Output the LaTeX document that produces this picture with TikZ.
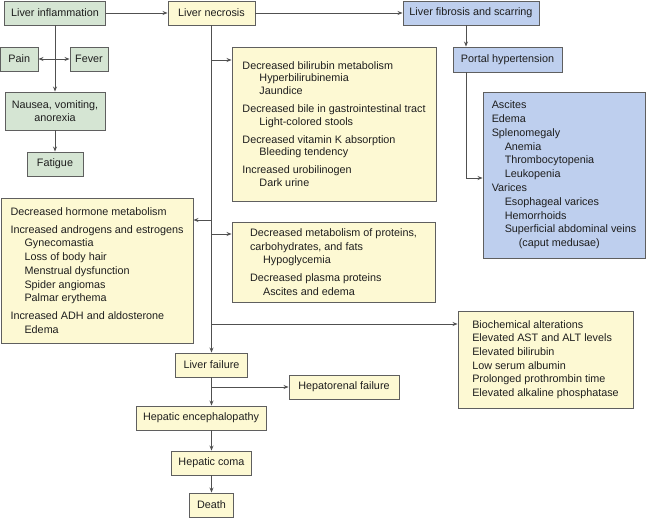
\documentclass[tikz,border=0pt]{standalone}
\usepackage{fontspec}
\setmainfont{Liberation Sans}
\usetikzlibrary{arrows.meta}
\definecolor{greenc}{RGB}{213,229,211}
\definecolor{yelc}{RGB}{253,249,211}
\definecolor{bluec}{RGB}{190,207,238}
\definecolor{bordc}{RGB}{95,95,95}
\definecolor{linec}{RGB}{80,80,80}
\definecolor{txtc}{RGB}{30,30,30}
\newcommand{\indA}{\hspace*{17pt}}
\newcommand{\indB}{\hspace*{13pt}}
\begin{document}
\begin{tikzpicture}[x=1pt,y=-1pt,
 box/.style={draw=bordc, line width=0.9pt, inner sep=0pt, text=txtc, font=\fontsize{10.8}{13}\selectfont, minimum height=24pt},
 gbox/.style={box, fill=greenc, align=center},
 ybox/.style={box, fill=yelc, align=center},
 bbox/.style={box, fill=bluec, align=center},
 lbox/.style={align=left},
 arr/.style={draw=linec, line width=0.8pt, -{Stealth[length=5pt,width=4pt]}},
 arrtwo/.style={draw=linec, line width=0.8pt, {Stealth[length=5pt,width=4pt]}-{Stealth[length=5pt,width=4pt]}}]
\useasboundingbox (0,0) rectangle (650,518);

% green column
\node[gbox, minimum width=101pt] (infl) at (55,13) {Liver inflammation};
\node[gbox, minimum width=37.5pt] (pain) at (19.25,59) {Pain};
\node[gbox, minimum width=38pt] (fever) at (89,59) {Fever};
\node[gbox, minimum width=100pt, minimum height=38pt] (naus) at (55,111) {Nausea, vomiting,\\anorexia};
\node[gbox, minimum width=56pt] (fat) at (55,164) {Fatigue};

% top row
\node[ybox, minimum width=87pt] (necr) at (211.5,13) {Liver necrosis};
\node[bbox, minimum width=136pt] (fibr) at (471,13) {Liver fibrosis and scarring};
\node[bbox, minimum width=109pt, minimum height=25pt] (port) at (507.5,59.5) {Portal hypertension};
\node[bbox, lbox, minimum width=162pt, minimum height=166pt, font=\fontsize{10.8}{13.8}\selectfont] (cons) at (564,175)
 {Ascites\\Edema\\Splenomegaly\\\indB Anemia\\\indB Thrombocytopenia\\\indB Leukopenia\\Varices\\\indB Esophageal varices\\\indB Hemorrhoids\\\indB Superficial abdominal veins\\\hspace*{27pt}(caput medusae)};

% yellow effect boxes
\node[ybox, lbox, minimum width=204pt, minimum height=154pt, font=\fontsize{10.8}{12.8}\selectfont] (bili) at (334,124)
 {Decreased bilirubin metabolism\\\indA Hyperbilirubinemia\\\indA Jaundice\\[5pt]
  Decreased bile in gastrointestinal tract\\\indA Light-colored stools\\[5pt]
  Decreased vitamin K absorption\\\indA Bleeding tendency\\[5pt]
  Increased urobilinogen\\\indA Dark urine};
\node[ybox, lbox, minimum width=192pt, minimum height=145pt, font=\fontsize{10.8}{13.7}\selectfont] (horm) at (97,270.5)
 {Decreased hormone metabolism\\[4.5pt]
  Increased androgens and estrogens\\\hspace*{14pt}Gynecomastia\\\hspace*{14pt}Loss of body hair\\\hspace*{14pt}Menstrual dysfunction\\\hspace*{14pt}Spider angiomas\\\hspace*{14pt}Palmar erythema\\[4.5pt]
  Increased ADH and aldosterone\\\hspace*{14pt}Edema};
\node[ybox, lbox, minimum width=203pt, minimum height=80pt, font=\fontsize{10.8}{13.5}\selectfont] (metab) at (333.5,262)
 {Decreased metabolism of proteins,\\carbohydrates, and fats\\\indB Hypoglycemia\\[4.5pt]
  Decreased plasma proteins\\\indB Ascites and edema};
\node[ybox, lbox, minimum width=175pt, minimum height=97pt, font=\fontsize{10.8}{13.6}\selectfont] (bio) at (545.5,359.5)
 {Biochemical alterations\\Elevated AST and ALT levels\\Elevated bilirubin\\Low serum albumin\\Prolonged prothrombin time\\Elevated alkaline phosphatase};

% bottom chain
\node[ybox, minimum width=72pt] (fail) at (211.5,365) {Liver failure};
\node[ybox, minimum width=110pt] (hr) at (344,387) {Hepatorenal failure};
\node[ybox, minimum width=130pt] (enc) at (201,418) {Hepatic encephalopathy};
\node[ybox, minimum width=80pt] (coma) at (211.5,463) {Hepatic coma};
\node[ybox, minimum width=44pt] (death) at (211.5,505) {Death};

% helper coordinates
\coordinate (t1) at (211.5,60);
\coordinate (t2) at (211.5,220);
\coordinate (t3) at (211.5,234);
\coordinate (t4) at (211.5,324);
\coordinate (xa) at (466,0);

% connectors
\draw[arr] (infl) -- (necr);
\draw[arr] (necr) -- (fibr);
\draw[arr] (infl) -- (naus);
\draw[arrtwo] (pain) -- (fever);
\draw[arr] (naus) -- (fat);
\draw[arr] (fibr.south -| xa) -- (port.north -| xa);
\draw[arr] (port.south -| xa) |- ([yshift=-3pt]cons.west);
\draw[arr] (necr.south) -- (fail.north);
\draw[arr] (t1) -- (t1 -| bili.west);
\draw[arr] (t2) -- (t2 -| horm.east);
\draw[arr] (t3) -- (t3 -| metab.west);
\draw[arr] (t4) -- (t4 -| bio.west);
\draw[arr] (fail.south |- hr.west) -- (hr.west);
\draw[arr] (fail.south) -- (fail.south |- enc.north);
\draw[arr] (enc.south -| coma.north) -- (coma.north);
\draw[arr] (coma) -- (death);
\end{tikzpicture}
\end{document}
